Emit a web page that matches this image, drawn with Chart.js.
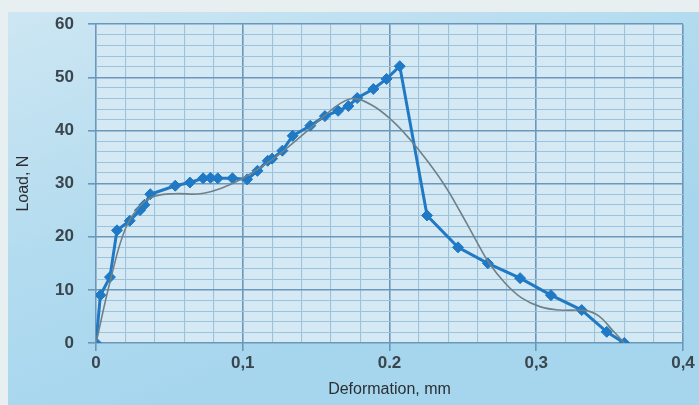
<!DOCTYPE html>
<html>
<head>
<meta charset="utf-8">
<script src="https://cdn.jsdelivr.net/npm/chart.js@4"></script>
<style>
  html, body { margin: 0; padding: 0; background: #e4edf0; }
  #wrap { width: 699px; height: 405px; }
</style>
</head>
<body>
<div id="wrap"><canvas id="loadChart" width="699" height="405"></canvas></div>
<script>
// measured points (blue line with diamonds)
const deformation = [0, 0.003, 0.0095, 0.0143, 0.023, 0.030, 0.033, 0.037, 0.054, 0.064, 0.073, 0.078, 0.083,
  0.093, 0.103, 0.110, 0.117, 0.120, 0.127, 0.134, 0.146, 0.156, 0.165, 0.172, 0.178, 0.189, 0.198, 0.207,
  0.2256, 0.2467, 0.267, 0.289, 0.310, 0.331, 0.348, 0.360];
const load = [0, 9, 12.4, 21.2, 23, 25, 26, 28, 29.6, 30.2, 31, 31.1, 31,
  31, 30.8, 32.4, 34.3, 34.7, 36.2, 39, 40.9, 42.7, 43.7, 44.6, 46.1, 47.8, 49.7, 52.1,
  24, 18, 15, 12.2, 9, 6.2, 2.1, 0];

// smooth trend curve (grey)
const trendX = [0, 0.01, 0.02, 0.03, 0.04, 0.054, 0.071, 0.087, 0.1, 0.12, 0.14, 0.155, 0.166, 0.176,
  0.189, 0.202, 0.214, 0.226, 0.238, 0.248, 0.258, 0.268, 0.279, 0.29, 0.303, 0.316, 0.334, 0.343, 0.352, 0.36];
const trendY = [0, 12, 21.5, 25.8, 27.6, 28.1, 28.1, 29.3, 31, 34.5, 39, 42.6, 45, 46,
  44.6, 41.8, 38.3, 34.2, 29.5, 24.8, 19.8, 15, 11.2, 8.5, 6.8, 6.2, 6.1, 5, 2.4, 0];

const xTickLabels = { 0: '0', 1: '0,1', 2: '0.2', 3: '0,3', 4: '0,4' };

const isMajorX = v => Math.abs(v * 10 - Math.round(v * 10)) < 1e-6;
const isMajorY = v => Math.abs(v / 10 - Math.round(v / 10)) < 1e-6;

const pairs = (xs, ys) => xs.map((x, i) => ({ x: x, y: ys[i] }));

const bgPlugin = {
  id: 'bg',
  beforeDraw(chart) {
    const c = chart.ctx, a = chart.chartArea;
    c.save();
    c.fillStyle = '#e8eff1';
    c.fillRect(0, 0, chart.width, chart.height);
    const g = c.createLinearGradient(0, 0, 150, chart.height);
    g.addColorStop(0, '#cfe7f3');
    g.addColorStop(0.6, '#b2dbef');
    g.addColorStop(1, '#a6d6ee');
    c.fillStyle = g;
    c.fillRect(8, 12, chart.width - 8, chart.height - 12);
    c.fillStyle = '#d5e9f4';
    c.fillRect(a.left, a.top, a.right - a.left, a.bottom - a.top);
    c.restore();
  }
};

new Chart(document.getElementById('loadChart'), {
  type: 'scatter',
  data: {
    datasets: [{
      label: 'Trend',
      data: pairs(trendX, trendY),
      showLine: true,
      borderColor: '#6f8189',
      borderWidth: 1.6,
      pointRadius: 0,
      tension: 0.4
    }, {
      label: 'Load',
      data: pairs(deformation, load),
      showLine: true,
      borderColor: '#2079c4',
      backgroundColor: '#2079c4',
      borderWidth: 3,
      pointStyle: 'rectRot',
      pointRadius: 5.5,
      pointBorderWidth: 1
    }]
  },
  options: {
    responsive: false,
    devicePixelRatio: 1,
    animation: false,
    layout: { padding: { left: 8, top: 23, right: 16, bottom: 0 } },
    plugins: { legend: { display: false }, tooltip: { enabled: false } },
    scales: {
      x: {
        type: 'linear',
        min: 0, max: 0.4,
        afterFit: s => { s.height = 62; },
        ticks: {
          stepSize: 0.02,
          autoSkip: false,
          maxRotation: 0,
          padding: 2,
          color: '#3a464e',
          font: { family: 'Liberation Sans', size: 17, weight: 'bold' },
          callback: v => isMajorX(v) ? xTickLabels[Math.round(v * 10)] : ''
        },
        grid: {
          color: c => isMajorX(c.tick.value) ? '#6a98bb' : '#9bc3dc',
          lineWidth: c => isMajorX(c.tick.value) ? 1.6 : 1.1,
          tickColor: c => isMajorX(c.tick.value) ? '#6a98bb' : 'rgba(0,0,0,0)',
          tickLength: 8
        },
        border: { display: false },
        title: {
          display: true,
          text: 'Deformation, mm',
          color: '#2b2f33',
          font: { family: 'Liberation Sans', size: 16 },
          padding: { top: 0, bottom: 6 }
        }
      },
      y: {
        min: 0, max: 60,
        afterFit: s => { s.width = 88; },
        ticks: {
          stepSize: 2,
          autoSkip: false,
          padding: 14,
          color: '#3a464e',
          font: { family: 'Liberation Sans', size: 17, weight: 'bold' },
          callback: v => isMajorY(v) ? String(v) : ''
        },
        grid: {
          color: c => isMajorY(c.tick.value) ? '#6a98bb' : '#9bc3dc',
          lineWidth: c => isMajorY(c.tick.value) ? 1.6 : 1.1,
          tickColor: c => isMajorY(c.tick.value) ? '#6a98bb' : 'rgba(0,0,0,0)',
          tickLength: 8
        },
        border: { display: false },
        title: {
          display: true,
          text: 'Load, N',
          color: '#2b2f33',
          font: { family: 'Liberation Sans', size: 16 },
          padding: { top: 6, bottom: 0 }
        }
      }
    }
  },
  plugins: [bgPlugin]
});
</script>
</body>
</html>
